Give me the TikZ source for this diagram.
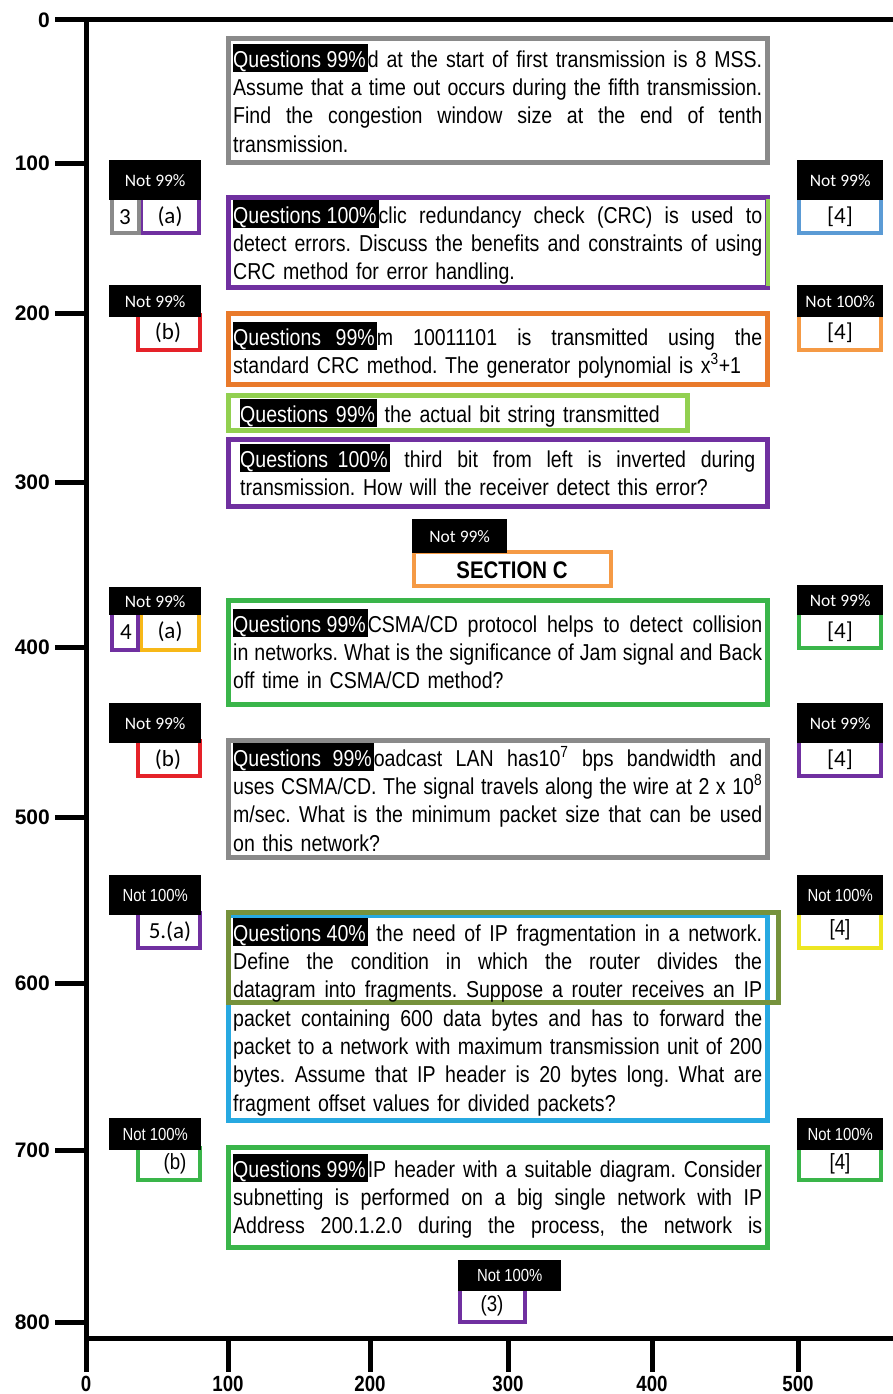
\documentclass[tikz,border=0pt]{standalone}
\usepackage{fontspec}
\setmainfont{Liberation Sans}[FakeStretch=0.85]
\newfontfamily\tagfont{Carlito}
\newfontfamily\axisfont{Liberation Sans}
\definecolor{qgray}{HTML}{8A8A8A}
\definecolor{qpurple}{HTML}{7030A0}
\definecolor{qlime}{HTML}{92D050}
\definecolor{qorange}{HTML}{E97A2B}
\definecolor{lorange}{HTML}{F59A45}
\definecolor{qred}{HTML}{E52229}
\definecolor{qamber}{HTML}{F7B818}
\definecolor{qgreen}{HTML}{3AB54A}
\definecolor{qolive}{HTML}{76923C}
\definecolor{qblue}{HTML}{27A9E1}
\definecolor{lblue}{HTML}{5B9BD5}
\definecolor{qyellow}{HTML}{EDE622}
\newcommand\qmark[1]{{\setlength{\fboxsep}{0pt}\colorbox{black}{\rule[-5pt]{0pt}{28pt}\color{white}#1\kern2pt}}}
\newcommand\jl[2][529pt]{{\spaceskip=\fontdimen2\font plus 10em minus .14em\relax\makebox[#1][s]{#2}}}
\tikzset{
	axis/.style={line width=5pt},
	axlbl/.style={inner sep=0pt, font=\bfseries\fontsize{22}{22}\selectfont},
	aylbl/.style={inner sep=0pt, font=\axisfont\bfseries\fontsize{21}{21}\selectfont},
	qfrm/.style={line width=5pt},
	frm/.style={line width=4pt},
	tagbk/.style={fill=black, text=white, inner sep=0pt, anchor=north west, font=\tagfont\fontsize{17.5}{17.5}\selectfont},
	tagbkA/.style={tagbk, font=\fontsize{17.5}{17.5}\selectfont},
	lbl/.style={inner sep=0pt, font=\tagfont\fontsize{23}{23}\selectfont},
	lblA/.style={inner sep=0pt, font=\fontsize{22}{22}\selectfont},
	qtext/.style={anchor=north west, inner sep=0pt, text width=529pt, font=\fontsize{23}{28.3}\selectfont\frenchspacing}
}
\begin{document}
\begin{tikzpicture}[x=1pt,y=-1pt]
	\useasboundingbox (0,0) rectangle (893,1394);
	\clip (0,0) rectangle (893,1394);

	\draw[axis] (55,20) -- (893,20);
	\draw[axis] (86,20) -- (86,1372);
	\draw[axis] (86,1338) -- (893,1338);
	\foreach \yy/\lab in {20/0,163/100,313/200,482/300,647/400,817/500,983/600,1150/700,1322/800}{
		\draw[axis] (55,\yy) -- (86,\yy);
		\node[aylbl, anchor=east] (ylab\lab) at (50,\yy) {\lab};
	}
	\foreach \xx/\lab in {86/0,228/100,370/200,508/300,652/400,798/500}{
		\draw[axis] (\xx,1338) -- (\xx,1372);
		\node[axlbl, anchor=base] (xlab\lab) at (\xx,1391) {\lab};
	}

	\draw[frm, qpurple] (141,198) rectangle (199,233);
	\draw[frm, qgray] (112,198) rectangle (139,233);
	\draw[frm, qred] (138,315) rectangle (200,350);
	\draw[frm, qamber] (141,613) rectangle (199,650);
	\draw[frm, qpurple] (112,613) rectangle (138,650);
	\draw[frm, qred] (138,741) rectangle (200,776);
	\draw[frm, qpurple] (138,913) rectangle (200,948);
	\draw[frm, qgreen] (138,1148) rectangle (200,1180);
	\draw[frm, lblue] (799,198) rectangle (881,233);
	\draw[frm, lorange] (799,315) rectangle (881,350);
	\draw[frm, qgreen] (799,613) rectangle (881,648);
	\draw[frm, qpurple] (799,741) rectangle (881,776);
	\draw[frm, qyellow] (799,913) rectangle (881,948);
	\draw[frm, qgreen] (799,1148) rectangle (881,1180);
	\draw[frm, lorange] (414,552) rectangle (611,586);
	\draw[frm, qpurple] (460,1289) rectangle (525,1322);

	\node[tagbk, minimum width=92pt, minimum height=40pt] (nl1) at (109,160) {Not 99\%};
	\node[tagbk, minimum width=92pt, minimum height=32pt] (nl2) at (109,285) {Not 99\%};
	\node[tagbk, minimum width=92pt, minimum height=28pt] (nl3) at (109,587) {Not 99\%};
	\node[tagbk, minimum width=92pt, minimum height=40pt] (nl4) at (109,703) {Not 99\%};
	\node[tagbkA, minimum width=92pt, minimum height=40pt] (nl5) at (109,875) {Not 100\%};
	\node[tagbkA, minimum width=92pt, minimum height=32pt] (nl6) at (109,1118) {Not 100\%};
	\node[tagbk, minimum width=86pt, minimum height=40pt] (nr1) at (797,160) {Not 99\%};
	\node[tagbk, minimum width=86pt, minimum height=32pt] (nr2) at (797,285) {Not 100\%};
	\node[tagbk, minimum width=86pt, minimum height=30pt] (nr3) at (797,585) {Not 99\%};
	\node[tagbk, minimum width=86pt, minimum height=40pt] (nr4) at (797,703) {Not 99\%};
	\node[tagbkA, minimum width=86pt, minimum height=40pt] (nr5) at (797,875) {Not 100\%};
	\node[tagbkA, minimum width=86pt, minimum height=32pt] (nr6) at (797,1118) {Not 100\%};
	\node[tagbk, minimum width=95pt, minimum height=34pt] (nsec) at (412,519) {Not 99\%};
	\node[tagbkA, minimum width=103pt, minimum height=31pt] (nbot) at (458,1260) {Not 100\%};

	\node[lbl] (l1n) at (125,217) {3};
	\node[lbl] (l1a) at (170,217) {(a)};
	\node[lbl] (l2b) at (168,333) {(b)};
	\node[lbl] (l3n) at (126,632) {4};
	\node[lbl] (l3a) at (170,632) {(a)};
	\node[lbl] (l4b) at (168,760) {(b)};
	\node[lbl] (l5a) at (170,932) {5.(a)};
	\node[lblA] (l6b) at (175,1164) {(b)};
	\node[lbl] (m1) at (840,217) {[4]};
	\node[lbl] (m2) at (840,333) {[4]};
	\node[lbl] (m3) at (840,632) {[4]};
	\node[lbl] (m4) at (840,760) {[4]};
	\node[lblA] (m5) at (840,930) {[4]};
	\node[lblA] (m6) at (840,1164) {[4]};
	\node[inner sep=0pt, font=\bfseries\fontsize{24}{24}\selectfont] (secc) at (512,570) {SECTION C};
	\node[lblA] (l3b) at (492,1306) {(3)};

	\draw[qfrm, qgray] (228.5,38.5) rectangle (767.5,162.5);
	\node[qtext] (q1) at (233,44) {\jl{\qmark{Questions 99\%}d at the start of first transmission is 8 MSS.}\\
		\jl{Assume that a time out occurs during the fifth transmission.}\\
		\jl{Find the congestion window size at the end of tenth}\\
		transmission.};

	\draw[qfrm, qpurple] (228.5,197.5) rectangle (767.5,287.5);
	\draw[line width=4pt, qlime] (768,199) -- (768,286);
	\node[qtext] (q2) at (233,200) {\jl{\qmark{Questions 100\%}clic redundancy check (CRC) is used to}\\
		\jl{detect errors. Discuss the benefits and constraints of using}\\
		CRC method for error handling.};

	\draw[qfrm, qorange] (228.5,313.5) rectangle (767.5,384.5);
	\node[qtext] (q3) at (233,322) {\jl{\qmark{Questions\hspace{9pt} 99\%}m 10011101 is transmitted using the}\\
		standard CRC method. The generator polynomial is x\textsuperscript{3}+1};

	\draw[qfrm, qlime] (228.5,395.5) rectangle (687.5,430.5);
	\node[qtext, text width=440pt] (q4) at (240,399) {\qmark{Questions 99\%} the actual bit string transmitted};

	\draw[qfrm, qpurple] (228.5,439.5) rectangle (767.5,506.5);
	\node[qtext, text width=515pt] (q5) at (240,444) {\jl[515pt]{\qmark{Questions\hspace{4pt} 100\%} third bit from left is inverted during}\\
		transmission. How will the receiver detect this error?};

	\draw[qfrm, qgreen] (228.5,600.5) rectangle (767.5,704.5);
	\node[qtext] (q6) at (233,609) {\jl{\qmark{Questions 99\%}CSMA/CD protocol helps to detect collision}\\
		\jl{in networks. What is the significance of Jam signal and Back}\\
		off time in CSMA/CD method?};

	\draw[qfrm, qgray] (228.5,740.5) rectangle (767.5,857.5);
	\node[qtext] (q7) at (233,743) {\jl{\qmark{Questions\hspace{6pt} 99\%}oadcast LAN has10\textsuperscript{7} bps bandwidth and}\\
		\jl{uses CSMA/CD. The signal travels along the wire at 2 x 10\textsuperscript{8}}\\
		\jl{m/sec. What is the minimum packet size that can be used}\\
		on this network?};

	\draw[qfrm, qblue] (228.5,915.5) rectangle (767.5,1120.5);
	\draw[qfrm, qolive] (228.5,912.5) rectangle (778.5,1002.5);
	\node[qtext] (q8) at (233,918) {\jl{\qmark{Questions 40\%} the need of IP fragmentation in a network.}\\
		\jl{Define the condition in which the router divides the}\\
		\jl{datagram into fragments. Suppose a router receives an IP}\\
		\jl{packet containing 600 data bytes and has to forward the}\\
		\jl{packet to a network with maximum transmission unit of 200}\\
		\jl{bytes. Assume that IP header is 20 bytes long. What are}\\
		fragment offset values for divided packets?};

	\draw[qfrm, qgreen] (228.5,1147.5) rectangle (767.5,1247.5);
	\node[qtext] (q9) at (233,1154) {\jl{\qmark{Questions 99\%}IP header with a suitable diagram. Consider}\\
		\jl{subnetting is performed on a big single network with IP}\\
		\jl{Address 200.1.2.0 during the process, the network is}};
\end{tikzpicture}
\end{document}
